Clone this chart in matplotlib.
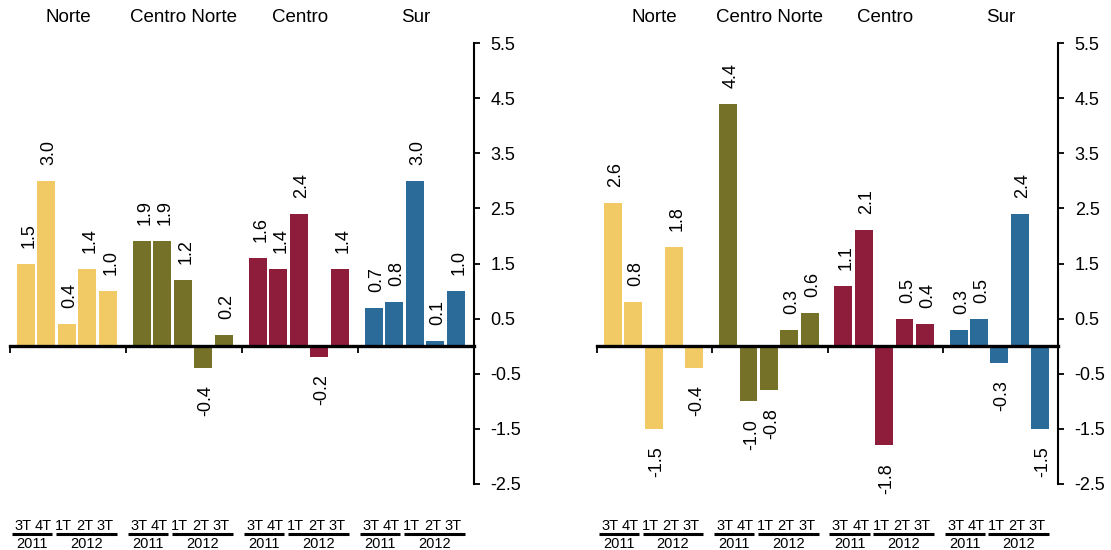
import matplotlib.pyplot as plt
from matplotlib.transforms import blended_transform_factory

plt.rcParams['font.family'] = ['Liberation Sans', 'DejaVu Sans']

regions = ["Norte", "Centro Norte", "Centro", "Sur"]
quarters = ["3T", "4T", "1T", "2T", "3T"]
years = ["2011", "2012"]
colors = ["#F2CA65", "#767128", "#8E1D3C", "#2A6B9A"]

# values per region, 3T-2011 .. 3T-2012
left_vals = [
    [1.5, 3.0, 0.4, 1.4, 1.0],
    [1.9, 1.9, 1.2, -0.4, 0.2],
    [1.6, 1.4, 2.4, -0.2, 1.4],
    [0.7, 0.8, 3.0, 0.1, 1.0],
]
right_vals = [
    [2.6, 0.8, -1.5, 1.8, -0.4],
    [4.4, -1.0, -0.8, 0.3, 0.6],
    [1.1, 2.1, -1.8, 0.5, 0.4],
    [0.3, 0.5, -0.3, 2.4, -1.5],
]
yticks = [-2.5, -1.5, -0.5, 0.5, 1.5, 2.5, 3.5, 4.5, 5.5]

G = 5.66   # width of one region block, in bar slots
W = 0.88   # bar width


def draw(ax, vals):
    trans = blended_transform_factory(ax.transData, ax.transAxes)
    for g, (name, v, c) in enumerate(zip(regions, vals, colors)):
        xs = [g * G + 0.78 + i for i in range(len(v))]
        ax.bar(xs, v, width=W, color=c, zorder=2)
        for x, y in zip(xs, v):
            if y >= 0:
                ax.annotate(f"{y:.1f}", (x, y), xytext=(2, 11.5),
                            textcoords='offset points', rotation=90,
                            ha='center', va='bottom', fontsize=13)
            else:
                ax.annotate(f"{y:.1f}", (x, y), xytext=(2, -12.5),
                            textcoords='offset points', rotation=90,
                            ha='center', va='top', fontsize=13)
        ax.text(g * G + G / 2, 1.057, name, transform=trans,
                ha='center', va='center', fontsize=13.5)
        for x, q in zip(xs, quarters):
            ax.text(x - 0.15, -0.095, q, transform=trans,
                    ha='center', va='center', fontsize=10.5)
        # year brackets: underline under the quarters, year below
        spans = [(0, 1, -0.25, -0.15), (2, 4, -0.1, 0.0)]
        for (a, b, da, db), yr in zip(spans, years):
            x0 = xs[a] - W / 2 + da
            x1 = xs[b] + W / 2 + db
            ax.plot([x0, x1], [-0.113, -0.113], transform=trans,
                    clip_on=False, color='black', lw=2.2,
                    solid_capstyle='butt')
            ax.text((x0 + x1) / 2, -0.135, yr, transform=trans,
                    ha='center', va='center', fontsize=10.5)

    ax.set_xlim(0, 4 * G)
    ax.set_ylim(-2.5, 5.5)
    ax.spines['top'].set_visible(False)
    ax.spines['left'].set_visible(False)
    ax.spines['bottom'].set_position(('data', 0))
    ax.spines['bottom'].set_linewidth(2.4)
    ax.spines['bottom'].set_zorder(3)
    ax.spines['right'].set_linewidth(1.5)
    ax.set_xticks([0, G, 2 * G, 3 * G])
    ax.set_xticklabels([])
    ax.tick_params(axis='x', direction='out', length=5, width=1.3)
    ax.yaxis.tick_right()
    ax.set_yticks(yticks)
    ax.set_yticklabels([f"{t:.1f}" for t in yticks])
    ax.tick_params(axis='y', direction='out', length=4, width=1.3,
                   pad=8, labelsize=13)


fig = plt.figure(figsize=(11.11, 5.5), dpi=100)
ax1 = fig.add_axes([0.009, 0.12, 0.4176, 0.8018])
ax2 = fig.add_axes([0.5374, 0.12, 0.4149, 0.8018])
draw(ax1, left_vals)
draw(ax2, right_vals)

fig.savefig("out.png", dpi=100)
